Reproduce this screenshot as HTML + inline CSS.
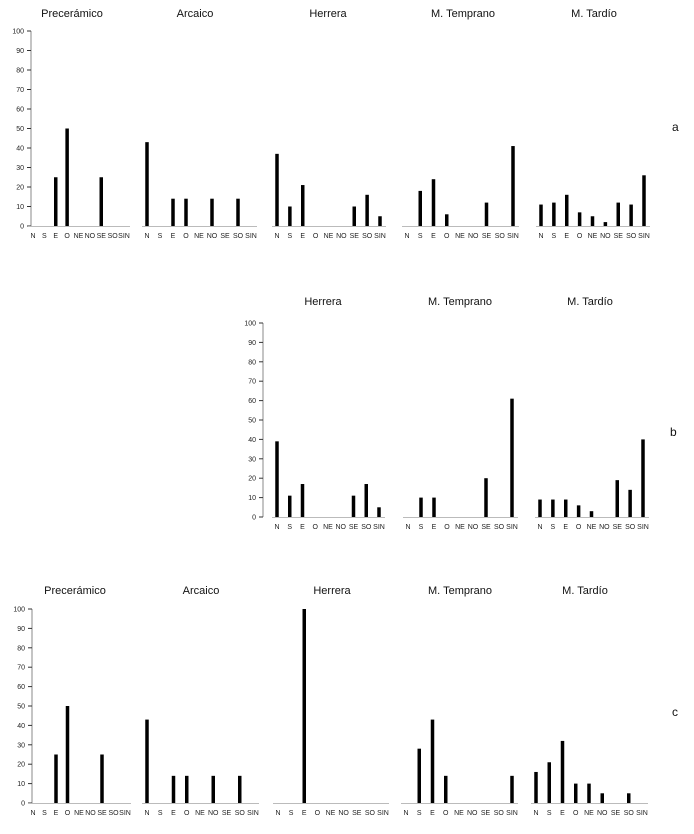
<!DOCTYPE html>
<html><head><meta charset="utf-8">
<style>
body{margin:0;background:#fff;}
svg{display:block;font-family:"Liberation Sans",sans-serif;}
</style></head>
<body>
<svg id="chart" width="694" height="834" viewBox="0 0 694 834" xmlns="http://www.w3.org/2000/svg"></svg>
<script>
const categories = ["N","S","E","O","NE","NO","SE","SO","SIN"];
const yTicks = [0,10,20,30,40,50,60,70,80,90,100];
const periodNames = ["Precerámico","Arcaico","Herrera","M. Temprano","M. Tardío"];
const panelLetters = ["a","b","c"];

// Panel a
const aPrecer = [0,0,25,50,0,0,25,0,0];
const aArcaico = [43,0,14,14,0,14,0,14,0];
const aHerrera = [37,10,21,0,0,0,10,16,5];
const aTemprano = [0,18,24,6,0,0,12,0,41];
const aTardio = [11,12,16,7,5,2,12,11,26];
// Panel b
const bHerrera = [39,11,17,0,0,0,11,17,5];
const bTemprano = [0,10,10,0,0,0,20,0,61];
const bTardio = [9,9,9,6,3,0,19,14,40];
// Panel c
const cPrecer = [0,0,25,50,0,0,25,0,0];
const cArcaico = [43,0,14,14,0,14,0,14,0];
const cHerrera = [0,0,100,0,0,0,0,0,0];
const cTemprano = [0,28,43,14,0,0,0,0,14];
const cTardio = [16,21,32,10,10,5,0,5,0];

const NS="http://www.w3.org/2000/svg";
const svg=document.getElementById('chart');
function mk(tag,attrs,parent){const e=document.createElementNS(NS,tag);for(const k in attrs)e.setAttribute(k,attrs[k]);(parent||svg).appendChild(e);return e;}

// layout (not data)
const panels=[
 {letter:0,y0:226,y100:31,axisX:31,titleY:17,letterPos:[672,131],
  groups:[{name:0,vals:aPrecer,n:33,s:124,tx:72},{name:1,vals:aArcaico,n:147,s:251,tx:195},{name:2,vals:aHerrera,n:277,s:380,tx:328},{name:3,vals:aTemprano,n:407,s:513,tx:463},{name:4,vals:aTardio,n:541,s:644,tx:594}]},
 {letter:1,y0:517,y100:323,axisX:263,titleY:305,letterPos:[670,436],
  groups:[{name:2,vals:bHerrera,n:277,s:379,tx:323},{name:3,vals:bTemprano,n:408,s:512,tx:460},{name:4,vals:bTardio,n:540,s:643,tx:590}]},
 {letter:2,y0:803,y100:609,axisX:32,titleY:594,letterPos:[672,716],
  groups:[{name:0,vals:cPrecer,n:33,s:125,tx:75},{name:1,vals:cArcaico,n:147,s:253,tx:201},{name:2,vals:cHerrera,n:278,s:383,tx:332},{name:3,vals:cTemprano,n:406,s:512,tx:460},{name:4,vals:cTardio,n:536,s:642,tx:585}]}
];

panels.forEach((p,pi)=>{
  const g=mk('g',{});
  
  
  const yS=v=>p.y0+(p.y100-p.y0)*v/100;
  const ax=mk('line',{x1:p.axisX,y1:p.y100,x2:p.axisX,y2:p.y0,stroke:'#888','stroke-width':1},g);
  
  
  yTicks.forEach(t=>{
    mk('line',{x1:p.axisX-4,y1:yS(t),x2:p.axisX,y2:yS(t),stroke:'#333','stroke-width':1},g);
    const tl=mk('text',{x:p.axisX-7,y:yS(t)+2.5,'font-size':7,'text-anchor':'end',fill:'#222'},g);
    tl.textContent=t;
    
    
  });
  const lt=mk('text',{x:p.letterPos[0],y:p.letterPos[1],'font-size':12,fill:'#111'},g);
  lt.textContent=panelLetters[p.letter];
  
  
  p.groups.forEach(gr=>{
    const gg=mk('g',{},g);
    
    
    const step=(gr.s-gr.n)/(categories.length-1);
    const xS=i=>gr.n+i*step;
    const tt=mk('text',{x:gr.tx,y:p.titleY,'font-size':11,'text-anchor':'middle',fill:'#111'},gg);
    tt.textContent=periodNames[gr.name];
    
    
    const bl=mk('line',{x1:gr.n-5,y1:p.y0+0.5,x2:gr.s+6,y2:p.y0+0.5,stroke:'#bbb','stroke-width':1},gg);
    
    
    categories.forEach((c,i)=>{
      const xl=mk('text',{x:xS(i),y:p.y0+12,'font-size':7,'text-anchor':'middle',fill:'#222'},gg);
      xl.textContent=c;
      
      
      const v=gr.vals[i];
      if(v>0){
        const w=3.5;
        const r=mk('rect',{x:xS(i)-w/2,y:yS(v),width:w,height:p.y0-yS(v),fill:'#000'},gg);
        
        
      }
    });
  });
});
</script>
</body></html>
